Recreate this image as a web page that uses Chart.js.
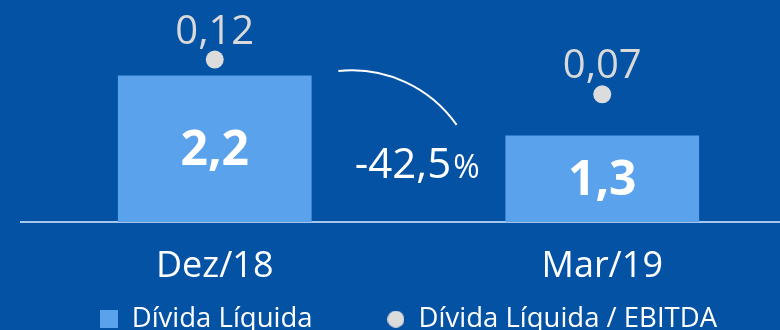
<!DOCTYPE html>
<html>
<head>
<meta charset="utf-8">
<script src="https://cdn.jsdelivr.net/npm/chart.js@4"></script>
<style>
  html, body { margin: 0; padding: 0; background: #0452a4; overflow: hidden; }
  #wrap { width: 800px; height: 330px; position: relative; }
</style>
</head>
<body>
<div id="wrap"><canvas id="chart" width="800" height="330"></canvas></div>
<script>
// Dívida líquida (R$ bilhões) e alavancagem por trimestre
const categories = ['Dez/18', 'Mar/19'];
const dividaLiquida = [2.2, 1.3];
const dividaLiquidaEbitda = [0.12, 0.07];
const seriesNames = ['Dívida Líquida', 'Dívida Líquida / EBITDA'];
const variacaoPct = -42.5;

const BAR_COLOR = '#5aa2ec';
const DOT_COLOR = '#dcdcdc';
const FONT = '"Open Sans", "Noto Sans", sans-serif';

const fmt = (v, d) => v.toFixed(d).replace('.', ',');

// small canvases used as legend markers
function marker(shape, size, color) {
  const c = document.createElement('canvas');
  c.width = size; c.height = size;
  const g = c.getContext('2d');
  g.fillStyle = color;
  if (shape === 'rect') {
    g.fillRect(0, 0, size, size);
  } else {
    g.beginPath();
    g.arc(size / 2, size / 2, size / 2, 0, Math.PI * 2);
    g.fill();
  }
  return c;
}
const legendSquare = marker('rect', 18, BAR_COLOR);
const legendDot = marker('circle', 17, DOT_COLOR);

// value labels, variation arc and percentage text
const annotations = {
  id: 'annotations',
  afterDatasetsDraw(chart) {
    const ctx = chart.ctx;
    const bars = chart.getDatasetMeta(0).data;
    const dots = chart.getDatasetMeta(1).data;
    ctx.save();
    ctx.textAlign = 'center';

    ctx.fillStyle = '#ffffff';
    ctx.font = `bold 48px ${FONT}`;
    ctx.textBaseline = 'middle';
    bars.forEach((b, i) => {
      ctx.fillText(fmt(dividaLiquida[i], 1), b.x, (b.y + b.base) / 2 + 2);
    });

    ctx.fillStyle = '#d9d9d9';
    ctx.font = `40px ${FONT}`;
    ctx.textBaseline = 'alphabetic';
    dots.forEach((p, i) => {
      ctx.fillText(fmt(dividaLiquidaEbitda[i], 2), p.x, p.y - 16);
    });

    // arc linking the two bars
    const x0 = bars[0].x, base = chart.chartArea.bottom;
    const cx = x0 + 137, cy = base - 24, r = 128;
    ctx.strokeStyle = '#ffffff';
    ctx.lineWidth = 2;
    ctx.beginPath();
    ctx.arc(cx, cy, r, -96 * Math.PI / 180, -35 * Math.PI / 180);
    ctx.stroke();

    // variation text
    const main = fmt(variacaoPct, 1);
    ctx.fillStyle = '#ffffff';
    ctx.textAlign = 'left';
    ctx.font = `42px ${FONT}`;
    const tx = x0 + 140, ty = base - 44;
    ctx.fillText(main, tx, ty);
    const w = ctx.measureText(main).width;
    ctx.font = `32px ${FONT}`;
    ctx.fillText('%', tx + w + 2, ty);
    ctx.restore();
  }
};

new Chart(document.getElementById('chart'), {
  data: {
    labels: categories,
    datasets: [
      {
        type: 'bar',
        label: seriesNames[0],
        data: dividaLiquida,
        backgroundColor: BAR_COLOR,
        barPercentage: 0.5,
        categoryPercentage: 1,
        yAxisID: 'y'
      },
      {
        type: 'line',
        label: seriesNames[1],
        data: dividaLiquidaEbitda,
        showLine: false,
        pointRadius: 9,
        pointHoverRadius: 9,
        pointBackgroundColor: DOT_COLOR,
        pointBorderWidth: 0,
        borderColor: DOT_COLOR,
        yAxisID: 'y2'
      }
    ]
  },
  options: {
    responsive: false,
    animation: false,
    layout: { autoPadding: false, padding: { left: 21, right: 4, top: 0, bottom: -13 } },
    scales: {
      x: {
        grid: { display: false },
        border: { display: true, color: '#a7c7ee', width: 2 },
        ticks: { color: '#ffffff', font: { family: FONT, size: 36 }, padding: 15 },
        afterFit(scale) { scale.height -= 8; }
      },
      y: { display: false, min: 0, max: 3.33 },
      y2: { display: false, min: -0.1143, max: 0.2057 }
    },
    plugins: {
      tooltip: { enabled: false },
      legend: {
        position: 'bottom',
        labels: {
          color: '#ffffff',
          font: { family: FONT, size: 27.5, lineHeight: 1 },
          padding: 10,
          usePointStyle: true,
          pointStyleWidth: 18,
          boxHeight: 18,
          generateLabels(chart) {
            const items = Chart.defaults.plugins.legend.labels.generateLabels(chart);
            items[0].pointStyle = legendSquare;
            items[0].text = items[0].text + '\u00a0'.repeat(9);
            items[1].pointStyle = legendDot;
            return items;
          }
        }
      }
    }
  },
  plugins: [annotations]
});
</script>
</body>
</html>
